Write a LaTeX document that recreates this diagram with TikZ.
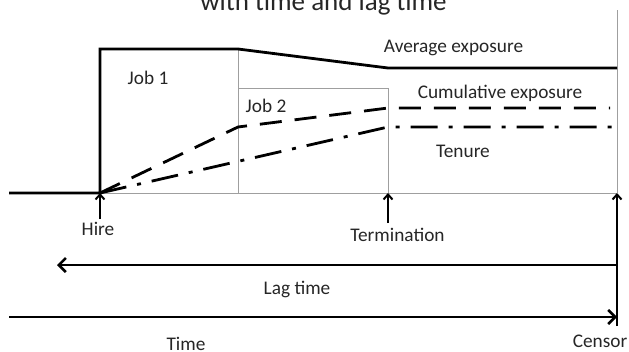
\documentclass[tikz,border=0pt]{standalone}
\usepackage{fontspec}
\setmainfont{Carlito}
\usetikzlibrary{arrows.meta}

\begin{document}
\begin{tikzpicture}[x=1pt,y=-1pt,
		frame/.style={gray!75,line width=1pt},
		avgexp/.style={line width=2.8pt},
		cumexp/.style={line width=2.8pt,dash pattern=on 22pt off 13pt},
		tenure/.style={line width=2.8pt,dash pattern=on 27pt off 11pt on 4pt off 11pt},
		mark arrow/.style={line width=2pt,-{Straight Barb[length=5pt,width=9pt]}},
		span arrow/.style={line width=2.6pt,-{Straight Barb[length=7pt,width=14pt]}},
		lbl/.style={anchor=base,inner sep=0pt,text=black!85,font=\fontsize{19.3}{22}\selectfont}]
			\useasboundingbox (0,0) rectangle (629,351);
			\coordinate (O) at (9,193);
			\coordinate (H) at (100,193);
			\coordinate (A) at (100,49);
			\coordinate (B) at (238,49);
			\coordinate (B0) at (238,193);
			\coordinate (C) at (388,68);
			\coordinate (R) at (617,68);
			\coordinate (J) at (238,88);
			\coordinate (K) at (388,88);
			\coordinate (T) at (388,193);
			\coordinate (E) at (617,193);
			\coordinate (E0) at (617,10);
			\coordinate (D1) at (238,127);
			\coordinate (D2) at (388,108);
			\coordinate (D3) at (610,108);
			\coordinate (U1) at (388,127);
			\coordinate (U2) at (617,127);
			\coordinate (Hs) at (100,219);
			\coordinate (Ts) at (388,223);
			\coordinate (Es) at (617,326);
			\coordinate (Lr) at (617,265);
			\coordinate (Ll) at (57,265);
			\coordinate (Tl) at (9,317);
			\coordinate (Tr) at (617,317);
			\draw[frame] (B)--(B0);
			\draw[frame] (J)--(K)--(T);
			\draw[frame] (H)--(E);
			\draw[frame] (E0)--(E);
			\draw[avgexp] (O)--(H)--(A)--(B)--(C)--(R);
			\draw[cumexp] (H)--(D1)--(D2)--(D3);
			\draw[tenure] (H)--(U1)--(U2);
			\draw[mark arrow] (Hs)--(H);
			\draw[mark arrow] (Ts)--(T);
			\draw[mark arrow] (Es)--(E);
			\draw[span arrow] (Lr)--(Ll);
			\draw[span arrow] (Tl)--(Tr);
			\node (title) at (323.5,10) [lbl,font=\fontsize{27}{30}\selectfont]{with time and lag time};
			\node (avg) at (453.5,52) [lbl]{Average exposure};
			\node (cum) at (500,98) [lbl]{Cumulative exposure};
			\node (ten) at (463,157) [lbl]{Tenure};
			\node (job1) at (148,84) [lbl]{Job 1};
			\node (job2) at (266,112) [lbl]{Job 2};
			\node (hire) at (98,235) [lbl]{Hire};
			\node (term) at (397.5,241) [lbl]{Termination};
			\node (lag) at (297,294) [lbl]{Lag time};
			\node (cens) at (600,347) [lbl]{Censor};
			\node (time) at (186,350) [lbl]{Time};
		\end{tikzpicture}
\end{document}
